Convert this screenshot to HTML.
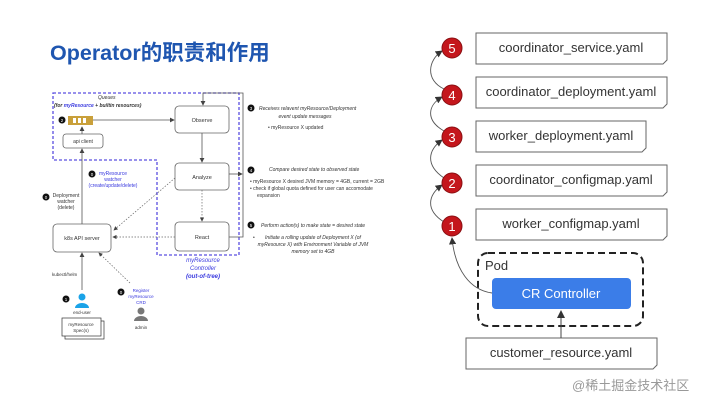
<!DOCTYPE html>
<html><head><meta charset="utf-8"><style>
html,body{margin:0;padding:0;background:#fff;}
body{width:720px;height:405px;position:relative;overflow:hidden;font-family:"Liberation Sans","Noto Sans CJK SC",sans-serif;}
.t{position:absolute;}
</style></head><body>
<div class="t" style="left:50px;top:36px;font-size:21.5px;font-weight:bold;color:#1f56b0;">Operator的职责和作用</div>
<svg width="720" height="405" style="position:absolute;left:0;top:0" font-family="Liberation Sans, sans-serif">
<defs>
<marker id="a" markerWidth="6" markerHeight="6" refX="5" refY="3" orient="auto"><path d="M0,0L6,3L0,6z" fill="#444"/></marker>
<marker id="b" markerWidth="8" markerHeight="8" refX="7" refY="4" orient="auto"><path d="M0,0L8,4L0,8z" fill="#333"/></marker>
</defs>
<path d="M53,93H239V255H157V160H53Z" fill="none" stroke="#5b4fe0" stroke-width="1.3" stroke-dasharray="3,2"/>
<text x="98" y="99" font-size="5" font-style="italic" fill="#333">Queues</text>
<text x="54" y="107" font-size="5" font-style="italic" font-weight="bold" fill="#333">(for <tspan fill="#3a3adf">myResource</tspan> + builtin resources)</text>
<rect x="68" y="116" width="25" height="9" fill="#c9a03a"/>
<rect x="73" y="118" width="3" height="5" fill="#fff"/><rect x="78" y="118" width="3" height="5" fill="#fff"/><rect x="83" y="118" width="3" height="5" fill="#fff"/>
<circle cx="62" cy="120" r="3.5" fill="#111"/><text x="62" y="122" font-size="4.5" fill="#fff" text-anchor="middle">2</text>
<rect x="63" y="134" width="40" height="14" rx="3" fill="#fff" stroke="#666" stroke-width="0.8"/>
<text x="83" y="143" font-size="5" text-anchor="middle" fill="#333">api client</text>
<g fill="#fff" stroke="#666" stroke-width="0.8">
<rect x="175" y="106" width="54" height="27" rx="4"/>
<rect x="175" y="163" width="54" height="27" rx="4"/>
<rect x="175" y="222" width="54" height="29" rx="4"/>
<rect x="53" y="224" width="58" height="28" rx="4"/>
</g>
<g font-size="5.5" fill="#333" text-anchor="middle">
<text x="202" y="122">Observe</text><text x="202" y="179">Analyze</text><text x="202" y="239">React</text><text x="82" y="240">k8s API server</text>
</g>
<g stroke="#555" stroke-width="0.8" fill="none">
<path d="M93,120H174" marker-end="url(#a)"/>
<path d="M202,133V162" marker-end="url(#a)"/>
<path d="M229,237H243V93H203V105" marker-end="url(#a)"/>
<path d="M229,174H242" marker-end="url(#a)"/>
<path d="M82,224V149" marker-end="url(#a)"/>
<path d="M82,134V127" marker-end="url(#a)"/>
<path d="M82,290V253" marker-end="url(#a)"/>
</g>
<g stroke="#666" stroke-width="0.7" fill="none" stroke-dasharray="1.5,1.5">
<path d="M202,190V221" marker-end="url(#a)"/>
<path d="M175,237H113" marker-end="url(#a)"/>
<path d="M175,178L114,230" marker-end="url(#a)"/>
<path d="M130,283L99,253" marker-end="url(#a)"/>
</g>
<circle cx="92" cy="174" r="3.5" fill="#111"/><text x="92" y="176" font-size="4.5" fill="#fff" text-anchor="middle">0</text>
<g font-size="5" fill="#3a3adf" text-anchor="middle"><text x="113" y="175">myResource</text><text x="113" y="181">watcher</text><text x="113" y="187">(create/update/delete)</text></g>
<circle cx="46" cy="197" r="3.5" fill="#111"/><text x="46" y="199" font-size="4.5" fill="#fff" text-anchor="middle">0</text>
<g font-size="5" fill="#333" text-anchor="middle"><text x="66" y="197">Deployment</text><text x="66" y="203">watcher</text><text x="66" y="209">(delete)</text></g>
<g font-size="6" fill="#3a3adf" text-anchor="middle" font-style="italic"><text x="203" y="262">myResource</text><text x="203" y="270">Controller</text><text x="203" y="278" font-weight="bold">(out-of-tree)</text></g>
<text x="52" y="276" font-size="4.5" fill="#333">kubectl/helm</text>
<circle cx="66" cy="299" r="3.5" fill="#111"/><text x="66" y="301" font-size="4.5" fill="#fff" text-anchor="middle">1</text>
<circle cx="82" cy="297" r="3.5" fill="#1aa3e8"/><path d="M75,308a7,5 0 0 1 14,0z" fill="#1aa3e8"/>
<text x="82" y="314" font-size="4.5" fill="#333" text-anchor="middle">end-user</text>
<rect x="65" y="321" width="39" height="18" fill="#fff" stroke="#333" stroke-width="0.7"/>
<rect x="62" y="318" width="39" height="18" fill="#fff" stroke="#333" stroke-width="0.7"/>
<text x="81" y="326" font-size="4.5" text-anchor="middle" fill="#333">myResource</text><text x="81" y="332" font-size="4.5" text-anchor="middle" fill="#333">Spec(s)</text>
<circle cx="121" cy="292" r="3.5" fill="#111"/><text x="121" y="294" font-size="4.5" fill="#fff" text-anchor="middle">0</text>
<g font-size="4.5" fill="#3a3adf" text-anchor="middle"><text x="141" y="292">Register</text><text x="141" y="298">myResource</text><text x="141" y="304">CRD</text></g>
<circle cx="141" cy="311" r="3.5" fill="#777"/><path d="M134,321a7,5 0 0 1 14,0z" fill="#777"/>
<text x="141" y="329" font-size="4.5" fill="#333" text-anchor="middle">admin</text>
<g fill="#111"><circle cx="251" cy="108" r="3.5"/><circle cx="251" cy="170" r="3.5"/><circle cx="251" cy="225" r="3.5"/></g>
<g font-size="4.5" fill="#fff" text-anchor="middle"><text x="251" y="110">3</text><text x="251" y="172">4</text><text x="251" y="227">5</text></g>
<g font-size="5" fill="#333" font-style="italic">
<text x="259" y="110">Receives relavent myResource/Deployment</text>
<text x="305" y="118" text-anchor="middle">event update messages</text>
<text x="268" y="129" font-style="normal">•  myResource X updated</text>
<text x="269" y="171">Compare desired state to observed state</text>
<text x="250" y="183" font-style="normal">•  myResource X desired JVM memory = 4GB, current = 2GB</text>
<text x="250" y="190" font-style="normal">•  check if global quota defined for user can accomodate</text>
<text x="257" y="197" font-style="normal">expansion</text>
<text x="261" y="227">Perform action(s) to make state = desired state</text>
<text x="253" y="239" font-style="normal">•</text>
<text x="313" y="239" text-anchor="middle">Initiate a rolling update of Deployment X (of</text>
<text x="313" y="246" text-anchor="middle">myResource X) with  Environment Variable of JVM</text>
<text x="313" y="253" text-anchor="middle">memory set to 4GB</text>
</g>
<g fill="#fff" stroke="#666" stroke-width="1">
<path d="M476,33H667V60L663,64H476Z"/>
<path d="M476,77H667V104L663,108H476Z"/>
<path d="M476,121H646V148L642,152H476Z"/>
<path d="M476,165H667V192L663,196H476Z"/>
<path d="M476,209H667V236L663,240H476Z"/>
<path d="M466,338H657V365L653,369H466Z"/>
</g>
<g font-size="13" fill="#333" text-anchor="middle">
<text x="571" y="52">coordinator_service.yaml</text>
<text x="571" y="96">coordinator_deployment.yaml</text>
<text x="561" y="140">worker_deployment.yaml</text>
<text x="571" y="184">coordinator_configmap.yaml</text>
<text x="571" y="228">worker_configmap.yaml</text>
<text x="561" y="357">customer_resource.yaml</text>
</g>
<rect x="478" y="253" width="165" height="73" rx="10" fill="none" stroke="#222" stroke-width="2" stroke-dasharray="7,4"/>
<text x="485" y="270" font-size="13" fill="#333">Pod</text>
<rect x="492" y="278" width="139" height="31" rx="4" fill="#3b7de8"/>
<text x="561" y="298" font-size="13" fill="#fff" text-anchor="middle">CR Controller</text>
<path d="M561,338V311" stroke="#444" stroke-width="1" marker-end="url(#b)" fill="none"/>
<g stroke="#555" stroke-width="0.9" fill="none">
<path d="M492,293C470,290 455,270 452,238" marker-end="url(#b)"/>
<path d="M444,222C425,210 428,195 442,185" marker-end="url(#b)"/>
<path d="M444,178C425,165 428,150 442,140" marker-end="url(#b)"/>
<path d="M444,131C425,120 428,105 442,97" marker-end="url(#b)"/>
<path d="M444,89C425,80 428,60 442,51" marker-end="url(#b)"/>
</g>
<g fill="#c4161c" stroke="#8a0f12" stroke-width="1">
<circle cx="452" cy="48" r="10"/><circle cx="452" cy="95" r="10"/><circle cx="452" cy="137" r="10"/><circle cx="452" cy="183" r="10"/><circle cx="452" cy="226" r="10"/>
</g>
<g font-size="13" fill="#fff" text-anchor="middle">
<text x="452" y="53">5</text><text x="452" y="100">4</text><text x="452" y="142">3</text><text x="452" y="188">2</text><text x="452" y="231">1</text>
</g>
</svg>
<div class="t" style="left:572px;top:375px;font-size:13px;color:#999;font-family:'Liberation Sans','Noto Sans CJK SC',sans-serif;">@稀土掘金技术社区</div>
</body></html>
